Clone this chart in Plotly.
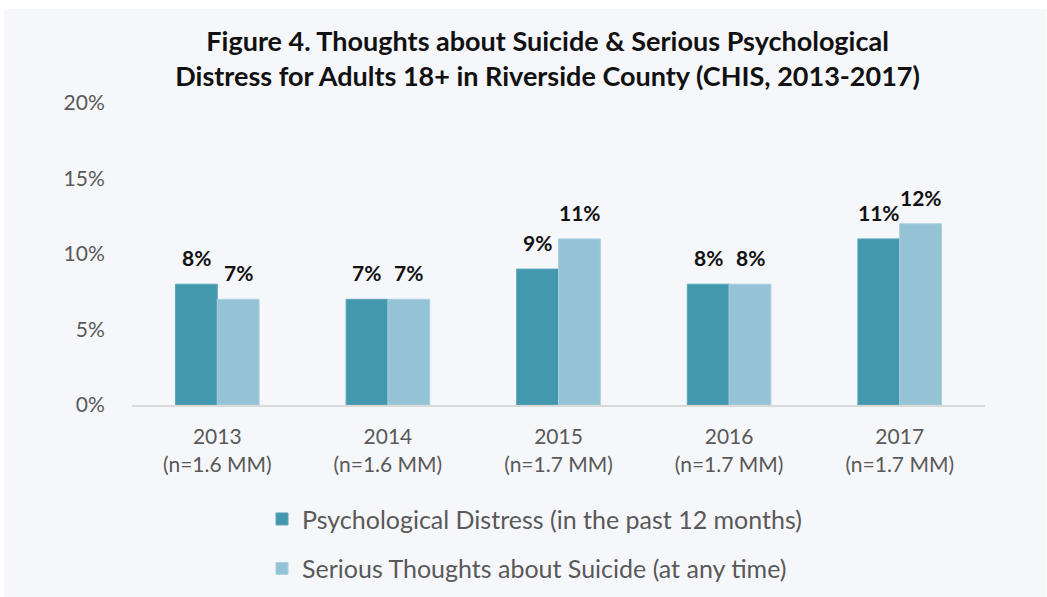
import plotly.graph_objects as go

# Survey years with population size
years = ["2013", "2014", "2015", "2016", "2017"]
sample_sizes = ["n=1.6 MM", "n=1.6 MM", "n=1.7 MM", "n=1.7 MM", "n=1.7 MM"]

# Percent of adults 18+
distress = [8, 7, 9, 8, 11]
suicide_thoughts = [7, 7, 11, 8, 12]

y_ticks = [0, 5, 10, 15, 20]
y_tick_labels = ["0%", "5%", "10%", "15%", "20%"]

series_names = [
    "Psychological Distress (in the past 12 months)",
    "Serious Thoughts about Suicide (at any time)",
]
series_colors = ["#4398AE", "#93C3D5"]
line_colors = ["#5aa6ba", "#a9d0de"]

categories = [f"{y}<br>({n})" for y, n in zip(years, sample_sizes)]

FONT = "Lato"
BG = "#F6F7FB"

fig = go.Figure()
for i, (name, vals) in enumerate(zip(series_names, [distress, suicide_thoughts])):
    fig.add_trace(go.Bar(
        x=categories,
        y=vals,
        name=name,
        legendgroup=f"g{i}",
        marker=dict(color=series_colors[i], line=dict(color=line_colors[i], width=1)),
        hoverinfo="skip",
    ))

# Value labels above each bar
for i, vals in enumerate([distress, suicide_thoughts]):
    shift = -21 if i == 0 else 21
    for c, v in zip(categories, vals):
        fig.add_annotation(
            x=c, y=v, text=f"<b>{v}%</b>", showarrow=False,
            xanchor="center", yanchor="bottom", xshift=shift, yshift=12,
            font=dict(family=FONT, size=21, color="#111111"),
        )

# Panel background with a thin white frame at top and left
L, R, T, B = 132, 62, 103, 192
W, H = 1047, 597
pw, ph = W - L - R, H - T - B
fig.add_shape(
    type="rect", xref="paper", yref="paper", layer="below",
    x0=(4 - L) / pw, x1=(1046 - L) / pw,
    y0=-(H - T - ph) / ph - 0.01, y1=(H - B - 9) / ph,
    fillcolor=BG, line=dict(width=0),
)

fig.update_layout(
    width=W, height=H,
    margin=dict(l=L, r=R, t=T, b=B, autoexpand=False),
    paper_bgcolor="white",
    plot_bgcolor=BG,
    barmode="group",
    bargap=0.51,
    bargroupgap=0,
    title=dict(
        text="<b>Figure 4. Thoughts about Suicide & Serious Psychological<br>"
             "Distress for Adults 18+ in Riverside County (CHIS, 2013-2017)</b>",
        x=0.523, xanchor="center", y=0.915, yanchor="top",
        font=dict(family=FONT, size=27, color="#111111"),
    ),
    font=dict(family=FONT, color="#595959"),
    showlegend=True,
    legend=dict(
        orientation="v", x=(262 - L) / pw, xanchor="left", y=-0.302, yanchor="top",
        font=dict(family=FONT, size=25, color="#595959"),
        bgcolor="rgba(0,0,0,0)", tracegroupgap=14, traceorder="grouped",
    ),
    xaxis=dict(
        showgrid=False, showline=True, linecolor="#D9D9D9", linewidth=2,
        ticks="outside", ticklen=12, tickcolor="rgba(0,0,0,0)",
        tickfont=dict(family=FONT, size=21, color="#595959"),
    ),
    yaxis=dict(
        range=[0, 20], tickmode="array", tickvals=y_ticks, ticktext=y_tick_labels,
        showgrid=False, zeroline=False, showline=False,
        ticks="outside", ticklen=22, tickcolor="rgba(0,0,0,0)",
        tickfont=dict(family=FONT, size=21, color="#595959"),
    ),
)

fig.write_html("out.html")
